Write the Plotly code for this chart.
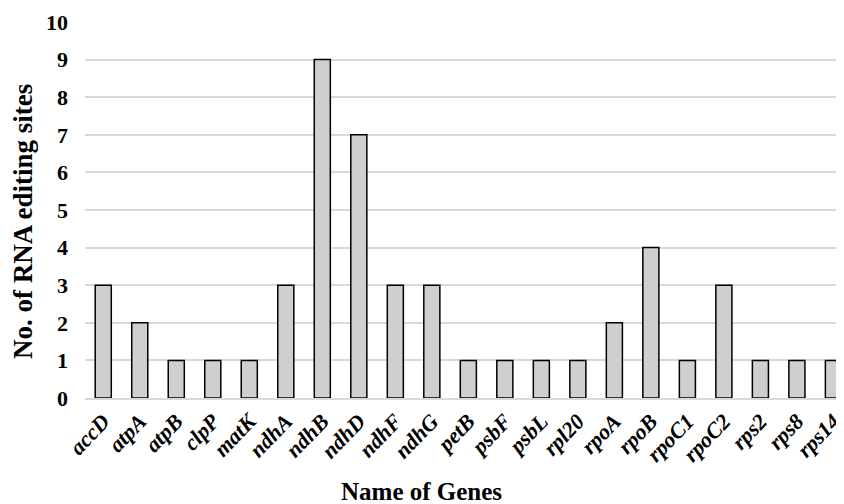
import plotly.graph_objects as go

genes = ["accD", "atpA", "atpB", "clpP", "matK", "ndhA", "ndhB", "ndhD", "ndhF", "ndhG",
         "petB", "psbF", "psbL", "rpl20", "rpoA", "rpoB", "rpoC1", "rpoC2", "rps2", "rps8", "rps14"]
sites = [3, 2, 1, 1, 1, 3, 9, 7, 3, 3, 1, 1, 1, 1, 2, 4, 1, 3, 1, 1, 1]
yticks = list(range(0, 11))

FONT = "Liberation Serif"

fig = go.Figure(go.Bar(
    x=genes, y=sites,
    marker=dict(color="#cfcfcf", line=dict(color="black", width=1.5)),
    width=0.44,
))

# page has an 8px body margin, so the figure is shifted by 8px
fig.update_layout(
    width=836, height=504,
    margin=dict(l=77, r=0, t=14, b=114),
    plot_bgcolor="white", paper_bgcolor="white",
    showlegend=False,
    font=dict(family=FONT, color="black"),
)
fig.update_xaxes(
    range=[-0.5, 20.29],
    automargin=False,
    tickangle=-46,
    tickfont=dict(family=FONT, size=22, weight="bold", style="italic", color="black"),
    showline=True, linecolor="#d9d9d9", linewidth=1.5,
    showgrid=False, ticks="",
)
fig.update_yaxes(
    range=[0, 10], tickvals=yticks,
    automargin=False,
    tickfont=dict(family=FONT, size=22, weight="bold", color="black"),
    ticklabelstandoff=16,
    showgrid=True, gridcolor="#d9d9d9", gridwidth=1.5,
    zeroline=False, ticks="", ticklen=0,
)

fig.add_annotation(
    text="Name of Genes", xref="paper", yref="paper", x=0.444, y=0,
    xanchor="center", yanchor="middle", yshift=-93, showarrow=False,
    font=dict(family=FONT, size=25, weight="bold", color="black"),
)
fig.add_annotation(
    text="No. of RNA editing sites", xref="paper", yref="paper", x=0, y=0.468,
    xanchor="center", yanchor="middle", xshift=-62, textangle=-90, showarrow=False,
    font=dict(family=FONT, size=27, weight="bold", color="black"),
)

fig.write_html("out.html")
